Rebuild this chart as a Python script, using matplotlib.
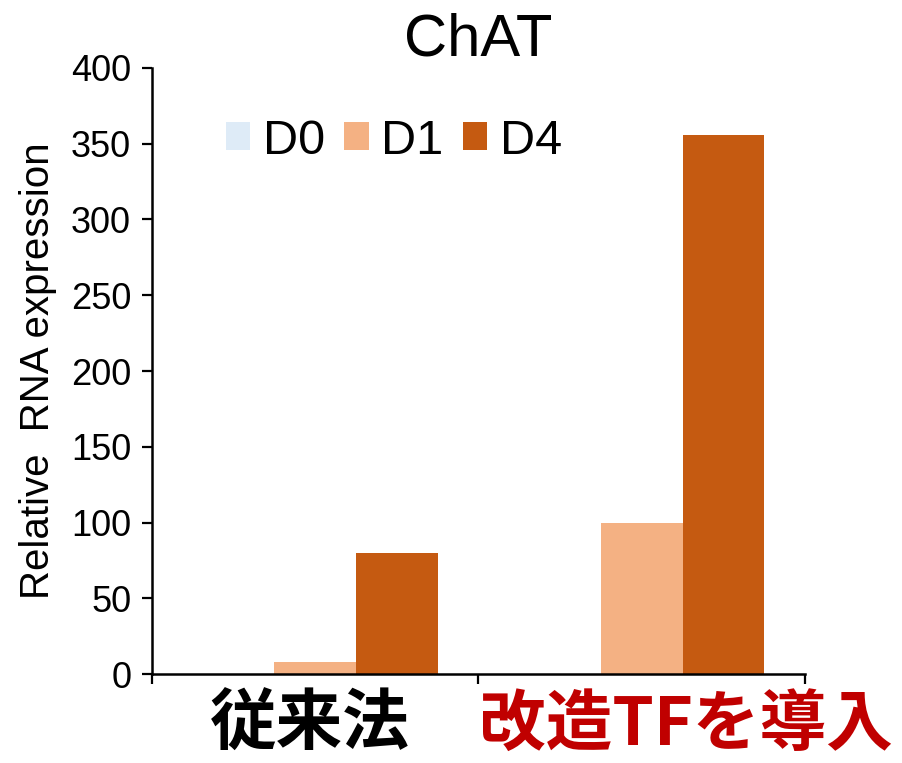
import matplotlib.pyplot as plt
import numpy as np

plt.rcParams['font.family'] = ['Liberation Sans', 'Noto Sans CJK JP', 'DejaVu Sans']

# ChAT 相対発現量
groups = ['従来法', '改造TFを導入']
group_colors = ['black', '#C00000']
days = ['D0', 'D1', 'D4']
day_colors = ['#DEEBF7', '#F4B183', '#C55A11']
values = {
    'D0': [0, 0],
    'D1': [8, 100],
    'D4': [80, 356],
}

fig = plt.figure(figsize=(9.03, 7.63), dpi=100)
ax = fig.add_axes([0.1683, 0.1166, 0.7232, 0.7943])

x = np.arange(len(groups))
width = 0.25
for k, d in enumerate(days):
    ax.bar(x + (k - 1) * width, values[d], width, color=day_colors[k], label=d)

ax.set_xlim(-0.5, len(groups) - 0.5)
ax.set_ylim(0, 400)
ax.set_yticks(np.arange(0, 401, 50))
ax.set_xticks(np.arange(-0.5, len(groups), 1.0))
ax.set_xticklabels([])

for s in ['top', 'right']:
    ax.spines[s].set_visible(False)
for s in ['left', 'bottom']:
    ax.spines[s].set_linewidth(1.8)
ax.tick_params(axis='y', direction='out', length=7, width=1.6, labelsize=26, pad=8)
ax.tick_params(axis='x', direction='out', length=7, width=1.6)

ax.set_ylabel('Relative  RNA expression', fontsize=29, labelpad=10)
ax.set_title('ChAT', fontsize=43, pad=9)

# グループ名（太字の日本語）
shifts = [-4, 32]
for i, g in enumerate(groups):
    ax.annotate(g, xy=(x[i], 0), xycoords=('data', 'axes fraction'),
                xytext=(shifts[i], -13), textcoords='offset points',
                ha='center', va='top', fontsize=48, fontweight='bold',
                color=group_colors[i], family=['Noto Sans CJK JP', 'DejaVu Sans'])

ax.legend(loc='center left', bbox_to_anchor=(0.113, 0.8795), ncol=3, frameon=False,
          fontsize=35, handlelength=0.5, handleheight=0.5, handletextpad=0.26,
          columnspacing=0.4, borderpad=0, borderaxespad=0)

fig.savefig('out.png', dpi=100)
